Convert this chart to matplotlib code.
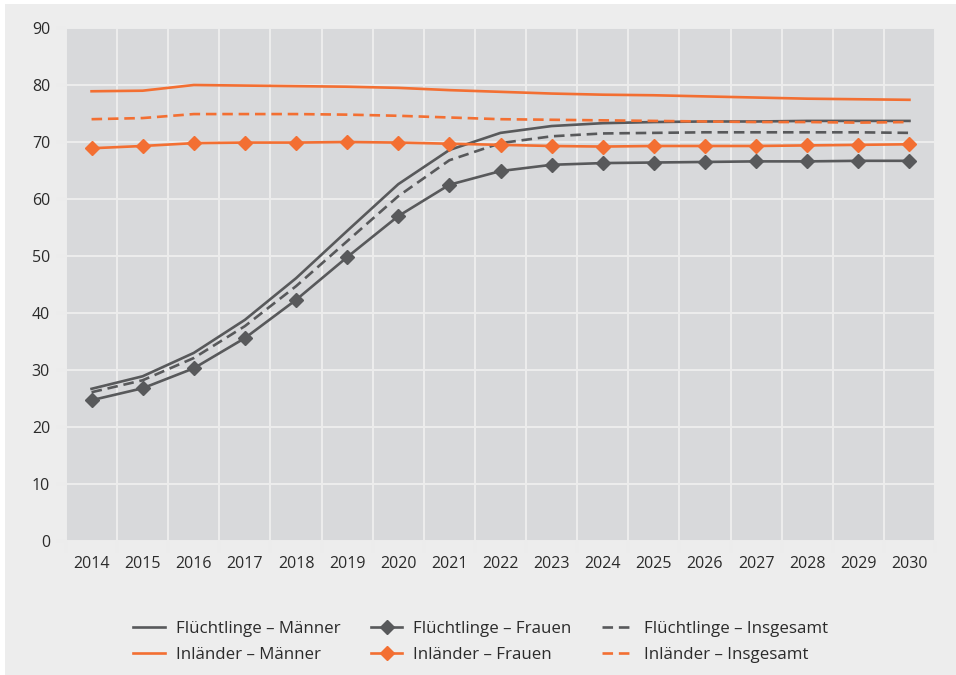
import matplotlib
matplotlib.use("Agg")
import matplotlib.pyplot as plt
from matplotlib.patches import Rectangle
from matplotlib.lines import Line2D
import numpy as np

plt.rcParams['font.family'] = ['Open Sans', 'DejaVu Sans']

years = [str(y) for y in range(2014, 2031)]
fl_maenner = [26.7, 28.9, 33.0, 38.8, 46.1, 54.4, 62.6, 68.6, 71.6, 72.8, 73.3, 73.5, 73.6, 73.6, 73.7, 73.7, 73.7]
fl_frauen = [24.7, 26.8, 30.3, 35.6, 42.3, 49.8, 57.0, 62.5, 64.9, 66.0, 66.3, 66.4, 66.5, 66.6, 66.6, 66.7, 66.7]
fl_insg = [26.1, 28.2, 32.1, 37.7, 44.7, 52.6, 60.5, 66.8, 69.8, 71.0, 71.5, 71.6, 71.7, 71.7, 71.7, 71.7, 71.6]
in_maenner = [78.9, 79.0, 80.0, 79.9, 79.8, 79.7, 79.5, 79.1, 78.8, 78.5, 78.3, 78.2, 78.0, 77.8, 77.6, 77.5, 77.4]
in_frauen = [68.9, 69.3, 69.8, 69.9, 69.9, 70.0, 69.9, 69.7, 69.5, 69.3, 69.2, 69.3, 69.3, 69.3, 69.4, 69.5, 69.6]
in_insg = [74.0, 74.2, 74.9, 74.9, 74.9, 74.8, 74.6, 74.3, 74.0, 73.9, 73.8, 73.7, 73.6, 73.5, 73.5, 73.4, 73.5]
yticks = [0, 10, 20, 30, 40, 50, 60, 70, 80, 90]

GRAY = '#58595b'
ORANGE = '#f36f32'
BG = '#ededed'
PLOT_BG = '#d8d9db'
GRID = '#ececec'
TXT = '#2b2b2b'

W, H = 956, 675
fig = plt.figure(figsize=(W/100, H/100), dpi=100, facecolor='white')
fig.patches.append(Rectangle((5/W, 0), 1 - 5/W, 1 - 4/H, transform=fig.transFigure,
                             facecolor=BG, edgecolor='none', zorder=-10))

ax = fig.add_axes([66/W, (H-541)/H, (935-66)/W, (541-28)/H])
ax.set_facecolor(PLOT_BG)
for s in ax.spines.values():
    s.set_visible(False)

x = np.arange(len(years))
lw = 1.9
ms = 7.5
dash = (4, 2.2)
ax.plot(x, fl_maenner, color=GRAY, lw=lw, zorder=3)
ax.plot(x, fl_frauen, color=GRAY, lw=lw, marker='D', ms=ms, zorder=3)
ax.plot(x, fl_insg, color=GRAY, lw=lw, dashes=dash, zorder=3)
ax.plot(x, in_maenner, color=ORANGE, lw=lw, zorder=3)
ax.plot(x, in_frauen, color=ORANGE, lw=lw, marker='D', ms=ms, zorder=3)
ax.plot(x, in_insg, color=ORANGE, lw=lw, dashes=dash, zorder=3)

ax.set_xlim(-0.5, len(years) - 0.5)
ax.set_ylim(0, 90)
ax.set_yticks(yticks)
ax.set_yticklabels([str(v) for v in yticks], fontsize=11.5, color=TXT)
ax.set_xticks(x)
ax.set_xticklabels(years, fontsize=11.5, color=TXT)
ax.set_xticks(np.arange(-0.5, len(years)), minor=True)
ax.tick_params(axis='x', which='major', length=0, pad=11)
ax.tick_params(axis='x', which='minor', length=8.6, width=1.5, color=GRID)
ax.tick_params(axis='y', length=7.2, width=1.5, color=GRID, pad=4.3)
ax.grid(True, axis='y', color=GRID, lw=1.5, zorder=1)
ax.grid(True, axis='x', which='minor', color=GRID, lw=1.5, zorder=1)
ax.set_axisbelow(True)

handles = [
    Line2D([], [], color=GRAY, lw=lw),
    Line2D([], [], color=ORANGE, lw=lw),
    Line2D([], [], color=GRAY, lw=lw, marker='D', ms=ms),
    Line2D([], [], color=ORANGE, lw=lw, marker='D', ms=ms),
    Line2D([], [], color=GRAY, lw=lw, dashes=dash),
    Line2D([], [], color=ORANGE, lw=lw, dashes=dash),
]
labels = ['Flüchtlinge – Männer', 'Inländer – Männer',
          'Flüchtlinge – Frauen', 'Inländer – Frauen',
          'Flüchtlinge – Insgesamt', 'Inländer – Insgesamt']
leg = fig.legend(handles, labels, ncol=3, loc='center', bbox_to_anchor=(481/W, 1 - 642/H),
                 frameon=False, fontsize=12.2, handlelength=1.85, handletextpad=0.65,
                 columnspacing=1.8, labelspacing=0.6, labelcolor=TXT)

fig.savefig('out.png', dpi=100, facecolor=fig.get_facecolor())
